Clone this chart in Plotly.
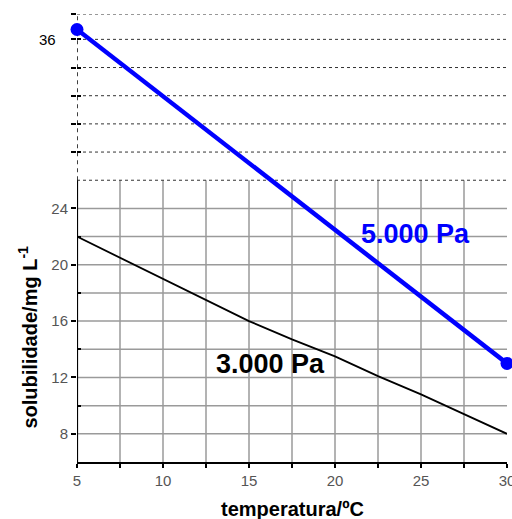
import plotly.graph_objects as go

# ---- data ----
temp_3000 = [5, 7.5, 10, 12.5, 15, 17.5, 20, 22.5, 25, 27.5, 30]
sol_3000 = [22.0, 20.5, 19.0, 17.5, 16.0, 14.7, 13.5, 12.1, 10.8, 9.4, 8.0]
temp_5000 = [5, 30]
sol_5000 = [36.7, 13.0]

x_tick_vals = [5, 7.5, 10, 12.5, 15, 17.5, 20, 22.5, 25, 27.5, 30]
x_tick_text = ["5", " ", "10", " ", "15", " ", "20", " ", "25", " ", "30"]
y_tick_vals = [8, 12, 16, 20, 24, 28, 30, 32, 34, 36, 37.8]
y_tick_text = ["8", "12", "16", "20", "24", " ", " ", " ", " ", " ", " "]
y_minor_vals = [10, 14, 18, 22, 28, 30, 32, 34, 36]

grid_x = [7.5, 10, 12.5, 15, 17.5, 20, 22.5, 25, 27.5]
grid_y_solid = [8, 10, 12, 14, 16, 18, 20, 22, 24]
grid_y_dashed = [26, 28, 30, 32, 34, 36, 37.8]
x_min, x_max = 5, 30
y_min, y_split, y_max = 6, 26, 37.8

FONT = "Liberation Sans, Arial, sans-serif"

fig = go.Figure()
fig.add_trace(go.Scatter(x=temp_3000, y=sol_3000, mode="lines",
                         line=dict(color="black", width=1.8), showlegend=False))
fig.add_trace(go.Scatter(x=temp_5000, y=sol_5000, mode="lines+markers",
                         line=dict(color="#0000ff", width=4.5),
                         marker=dict(color="#0000ff", size=13),
                         cliponaxis=False, showlegend=False))

shapes = []
for gx in grid_x:
    shapes.append(dict(type="line", xref="x", yref="y", x0=gx, x1=gx, y0=y_min, y1=y_split,
                       line=dict(color="#9a9a9a", width=1.5), layer="below"))
for gy in grid_y_solid:
    shapes.append(dict(type="line", xref="x", yref="y", x0=x_min, x1=x_max, y0=gy, y1=gy,
                       line=dict(color="#9a9a9a", width=1.5), layer="below"))
for gy in grid_y_dashed:
    shapes.append(dict(type="line", xref="x", yref="y", x0=x_min, x1=x_max, y0=gy, y1=gy,
                       line=dict(color="#333333", width=1, dash="3px,3px"), layer="below"))
# y axis line: solid lower part, dashed upper part
shapes.append(dict(type="line", xref="x", yref="y", x0=x_min, x1=x_min, y0=y_min, y1=y_split,
                   line=dict(color="black", width=2.2), layer="below"))
shapes.append(dict(type="line", xref="x", yref="y", x0=x_min, x1=x_min, y0=y_split, y1=y_max,
                   line=dict(color="black", width=1.5, dash="4px,4px"), layer="below"))

annotations = [
    dict(text="<b>5.000 Pa</b>", x=24.67, y=22.2, xref="x", yref="y", showarrow=False,
         font=dict(family=FONT, size=27, color="#0000ff")),
    dict(text="<b>3.000 Pa</b>", x=16.27, y=12.94, xref="x", yref="y", showarrow=False,
         font=dict(family=FONT, size=27, color="black")),
    dict(text="36", x=-0.0686, y=36, xref="paper", yref="y", xanchor="center", yanchor="middle",
         showarrow=False, font=dict(family=FONT, size=15, color="black")),
    dict(text="<b>solubilidade/mg L<sup>-1</sup></b>", x=-0.114, y=14.9, xref="paper", yref="y",
         xanchor="center", yanchor="middle",
         textangle=-90, showarrow=False, font=dict(family=FONT, size=20, color="black")),
    dict(text="<b>temperatura/ºC</b>", x=17.5, y=0, xref="x", yref="paper", yshift=-47,
         xanchor="center", yanchor="middle", showarrow=False,
         font=dict(family=FONT, size=20, color="black")),
]

fig.update_layout(
    width=512, height=519,
    margin=dict(l=77, r=5, t=14, b=57, pad=0, autoexpand=False),
    paper_bgcolor="white", plot_bgcolor="white",
    shapes=shapes, annotations=annotations,
    xaxis=dict(range=[x_min, x_max], tickmode="array", tickvals=x_tick_vals, ticktext=x_tick_text,
               ticks="outside", ticklen=4, tickwidth=1.5, tickcolor="black",
               ticklabeloverflow="allow", automargin=False,
               showline=True, linecolor="black", linewidth=2.2, showgrid=False, zeroline=False,
               tickfont=dict(family=FONT, size=15, color="#555555")),
    yaxis=dict(range=[y_min, y_max], tickmode="array", tickvals=y_tick_vals, ticktext=y_tick_text,
               ticks="outside", ticklen=5, tickwidth=1.5, tickcolor="black", automargin=False,
               minor=dict(tickmode="array", tickvals=y_minor_vals, ticks="inside", ticklen=4,
                          tickwidth=1.5, tickcolor="black", showgrid=False),
               showline=False, showgrid=False, zeroline=False,
               tickfont=dict(family=FONT, size=15, color="#555555")),
)

fig.write_html("out.html", config={"displayModeBar": False},
               post_script="document.body.style.margin='0';document.body.style.overflow='hidden';")
